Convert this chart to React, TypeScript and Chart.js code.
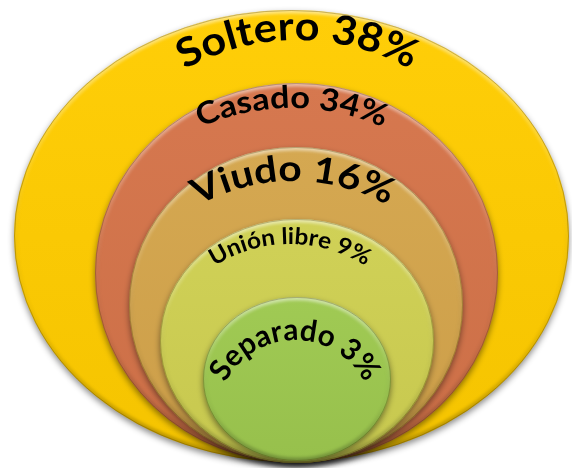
import { useEffect, useRef } from 'react';
import { Chart, registerables } from 'chart.js';
Chart.register(...registerables);

// ---- data ----
const categories = ['Soltero', 'Casado', 'Viudo', 'Unión libre', 'Separado'];
const percentages = [38, 34, 16, 9, 3];

// ---- ellipse geometry (axis units, x 0..572, y 0..468 top-down) ----
const centerX = [291.5, 296.5, 296, 297, 297];
const centerY = [236, 273, 305, 341, 379];
const radiusX = [277.5, 201.5, 167, 137, 94];
const radiusY = [226, 190, 158, 122, 82];
const fillColors = ['#FFCC00', '#D5744A', '#D4A54C', '#CFD052', '#9DC84F'];

// ---- curved label geometry ----
const labelCenterX = [297.5, 292, 293, 290, 295];
const labelBaselineY = [40, 108, 181, 244, 340];
const labelRadius = [230, 225, 195, 140, 78];
const labelWidth = [236, 188, 198, 160, 172];
const labelFont = [40, 31, 36, 23, 30];

const FONT = 'Lato, "Open Sans", sans-serif';

function shade(hex: string, amt: number) {
  const n = parseInt(hex.slice(1), 16);
  let r = (n >> 16) & 255, g = (n >> 8) & 255, b = n & 255;
  const f = (c: number) => Math.max(0, Math.min(255, Math.round(amt >= 0 ? c + (255 - c) * amt : c * (1 + amt))));
  return `rgb(${f(r)},${f(g)},${f(b)})`;
}

const ringsPlugin = {
  id: 'rings',
  afterDatasetsDraw(chart: any) {
    const ctx: CanvasRenderingContext2D = chart.ctx;
    const xs = chart.scales.x;
    const ys = chart.scales.y;
    const ux = Math.abs(xs.getPixelForValue(1) - xs.getPixelForValue(0));
    const uy = Math.abs(ys.getPixelForValue(1) - ys.getPixelForValue(0));

    categories.forEach((_, i) => {
      const cx = xs.getPixelForValue(centerX[i]);
      const cy = ys.getPixelForValue(centerY[i]);
      const rx = radiusX[i] * ux;
      const ry = radiusY[i] * uy;
      const base = fillColors[i];
      // base fill with shadow
      ctx.save();
      ctx.beginPath();
      ctx.ellipse(cx, cy, rx, ry, 0, 0, Math.PI * 2);
      ctx.shadowColor = 'rgba(0,0,0,0.45)';
      ctx.shadowBlur = 6;
      ctx.shadowOffsetY = 3;
      const g = ctx.createLinearGradient(0, cy - ry, 0, cy + ry);
      g.addColorStop(0, shade(base, 0.03));
      g.addColorStop(1, shade(base, -0.04));
      ctx.fillStyle = g;
      ctx.fill();
      ctx.restore();
      // inner bevel rim
      ctx.save();
      ctx.beginPath();
      ctx.ellipse(cx, cy, rx, ry, 0, 0, Math.PI * 2);
      ctx.clip();
      const rim = ctx.createLinearGradient(0, cy - ry, 0, cy + ry);
      rim.addColorStop(0, 'rgba(255,255,255,0.5)');
      rim.addColorStop(0.35, 'rgba(255,255,255,0.1)');
      rim.addColorStop(0.65, 'rgba(0,0,0,0.03)');
      rim.addColorStop(1, 'rgba(0,0,0,0.25)');
      ctx.strokeStyle = rim;
      ctx.lineWidth = 7;
      ctx.filter = 'blur(1.5px)';
      ctx.beginPath();
      ctx.ellipse(cx, cy, rx, ry, 0, 0, Math.PI * 2);
      ctx.stroke();
      ctx.restore();
      // outline
      ctx.save();
      ctx.beginPath();
      ctx.ellipse(cx, cy, rx - 0.5, ry - 0.5, 0, 0, Math.PI * 2);
      ctx.strokeStyle = 'rgba(70,50,0,0.3)';
      ctx.lineWidth = 1;
      ctx.stroke();
      ctx.restore();
    });

    // curved labels
    categories.forEach((cat, i) => {
      const text = `${cat} ${percentages[i]}%`;
      const size = labelFont[i];
      ctx.save();
      ctx.font = `bold ${size}px ${FONT}`;
      ctx.fillStyle = '#000';
      ctx.textAlign = 'center';
      ctx.textBaseline = 'alphabetic';
      const chars = Array.from(text);
      const widths = chars.map((c) => ctx.measureText(c).width);
      const total = widths.reduce((a, b) => a + b, 0);
      const target = labelWidth[i] * ux;
      const sx = target / total;
      const R = labelRadius[i] * ux;
      const ax = xs.getPixelForValue(labelCenterX[i]);
      const ay = ys.getPixelForValue(labelBaselineY[i]) + R;
      let acc = 0;
      chars.forEach((c, k) => {
        const w = widths[k] * sx;
        const theta = (acc + w / 2 - target / 2) / R;
        acc += w;
        const px = ax + R * Math.sin(theta);
        const py = ay - R * Math.cos(theta);
        ctx.save();
        ctx.translate(px, py);
        ctx.rotate(theta);
        ctx.scale(sx, 1);
        ctx.fillText(c, 0, 0);
        ctx.restore();
      });
      ctx.restore();
    });
  },
};

export default function App() {
  const ref = useRef<HTMLCanvasElement | null>(null);
  useEffect(() => {
    if (!ref.current) return;
    const chart = new Chart(ref.current, {
      type: 'scatter',
      data: {
        datasets: [
          {
            label: 'Estado civil',
            data: categories.map((_, i) => ({ x: centerX[i], y: centerY[i] })),
            pointRadius: 0,
            pointHoverRadius: 0,
          },
        ],
      },
      options: {
        responsive: false,
        animation: false,
        devicePixelRatio: 1,
        layout: { padding: 0 },
        plugins: { legend: { display: false }, tooltip: { enabled: false } },
        scales: {
          x: { type: 'linear', min: 0, max: 572, display: false },
          y: { type: 'linear', min: 0, max: 468, reverse: true, display: false },
        },
      },
      plugins: [ringsPlugin],
    });
    let alive = true;
    (document as any).fonts?.load(`bold 30px Lato`).then(() => {
      if (alive) chart.draw();
    });
    return () => {
      alive = false;
      chart.destroy();
    };
  }, []);
  return (
    <div style={{ position: 'absolute', left: 0, top: 0, width: 572, height: 468, background: '#fff' }}>
      <canvas ref={ref} width={572} height={468} />
    </div>
  );
}
